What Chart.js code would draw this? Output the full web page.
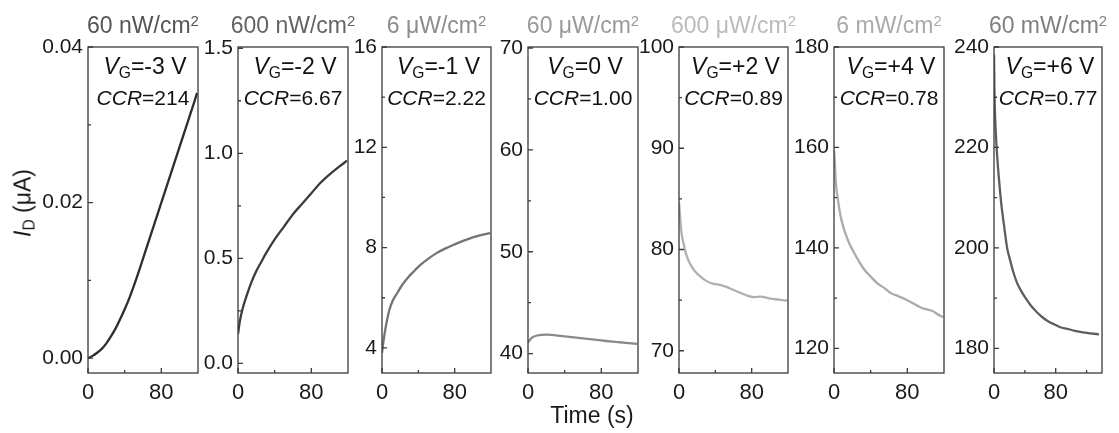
<!DOCTYPE html>
<html><head><meta charset="utf-8">
<script src="https://cdn.jsdelivr.net/npm/chart.js@4.4.0/dist/chart.umd.min.js"></script>
<style>
body{margin:0;background:#fff;}
#wrap{position:relative;width:1119px;height:433px;overflow:hidden;background:#fff;font-family:"Liberation Sans",Arial,sans-serif;color:#1a1a1a;}
canvas{position:absolute;top:0;}
.t{position:absolute;white-space:nowrap;line-height:1;}
.t sub{font-size:0.68em;vertical-align:-0.28em;line-height:0;}
.t sup{font-size:0.65em;vertical-align:0.45em;line-height:0;}
</style></head><body><div id="wrap"></div>
<script>
// ---------- DATA ----------
const intensities = ["60 nW/cm", "600 nW/cm", "6 \u03bcW/cm", "60 \u03bcW/cm", "600 \u03bcW/cm", "6 mW/cm", "60 mW/cm"];
const gateVoltages = ["-3", "-2", "-1", "0", "+2", "+4", "+6"];
const ccrValues = ["214", "6.67", "2.22", "1.00", "0.89", "0.78", "0.77"];

const timeP1 = [0,5,10,15,20,25,30,35,40,45,50,55,60,65,70,75,80,85,90,95,100,105,110,115,119];
const currentP1 = [0.0000,0.0003,0.0007,0.0012,0.0019,0.0028,0.0038,0.0050,0.0063,0.0077,0.0093,0.0110,0.0128,0.0146,0.0164,0.0182,0.0200,0.0218,0.0236,0.0254,0.0272,0.0290,0.0308,0.0326,0.0341];

const timeP2 = [0,2,5,10,15,20,25,30,40,50,60,70,80,90,100,110,119];
const currentP2 = [0.14,0.20,0.26,0.33,0.39,0.44,0.48,0.52,0.59,0.65,0.71,0.76,0.81,0.86,0.90,0.935,0.965];

const timeP3 = [0,1,3,5,8,12,17,22,28,35,42,50,60,70,80,90,100,110,119];
const currentP3 = [3.8,4.1,4.6,5.0,5.5,5.9,6.2,6.5,6.78,7.05,7.3,7.53,7.78,7.97,8.13,8.28,8.41,8.51,8.58];

const timeP4 = [0,3,6,10,15,20,25,30,40,50,60,70,80,90,100,110,119];
const currentP4 = [41.1,41.45,41.65,41.78,41.85,41.87,41.85,41.8,41.7,41.6,41.5,41.4,41.3,41.2,41.12,41.03,40.95];

const timeP5 = [0,1,2,3,5,7,10,14,18,24,30,38,45,52,60,68,75,82,90,100,110,119];
const currentP5 = [84.6,83.5,82.3,81.5,80.6,79.8,79.0,78.3,77.8,77.3,76.9,76.6,76.5,76.3,76.0,75.7,75.45,75.3,75.35,75.15,75.05,74.95];

const timeP6 = [0,1,2,4,7,10,13,17,22,27,33,40,47,55,62,70,79,86,94,100,108,113,119];
const currentP6 = [159.5,157,153,150,146.5,144.3,142.6,140.8,139,137.4,135.7,134.3,133,132,131,130.4,129.7,129,128.2,127.8,127.4,126.8,126.2];

const timeP7 = [0,0.5,1,2,3,4,6,8,10,13,17,21,25,30,35,41,48,55,62,70,78,86,95,105,115,125,136];
const currentP7 = [238.5,232,228,224,221,218.5,214.5,211,208,204.5,200,197.5,195.2,193,191.5,190,188.5,187.3,186.3,185.4,184.8,184.2,183.9,183.5,183.2,183.0,182.8];

const xTickValues = [0, 80];
const xTickLabels = ["0", "80"];
const xMinorTicks = [40, 120];

const yTicksP1 = [0, 0.02, 0.04];   const yLabelsP1 = ["0.00", "0.02", "0.04"];
const yTicksP2 = [0, 0.5, 1.0, 1.5]; const yLabelsP2 = ["0.0", "0.5", "1.0", "1.5"];
const yTicksP3 = [4, 8, 12, 16];     const yLabelsP3 = ["4", "8", "12", "16"];
const yTicksP4 = [40, 50, 60, 70];   const yLabelsP4 = ["40", "50", "60", "70"];
const yTicksP5 = [70, 80, 90, 100];  const yLabelsP5 = ["70", "80", "90", "100"];
const yTicksP6 = [120, 140, 160, 180]; const yLabelsP6 = ["120", "140", "160", "180"];
const yTicksP7 = [180, 200, 220, 240]; const yLabelsP7 = ["180", "200", "220", "240"];

// ---------- LAYOUT / STYLE ----------
const FONT = '"Liberation Sans", Arial, sans-serif';
const TOP = 47, BOTTOM = 373, LEFTBOX = 70, RIGHTPAD = 8;
const panels = [
  {L:88,  R:198,  t:timeP1, v:currentP1, yt:yTicksP1, yl:yLabelsP1, ymin:-0.0019, ymax:0.04,  xmax:120, line:'#2e2e2e', title:'#555555'},
  {L:238, R:348,  t:timeP2, v:currentP2, yt:yTicksP2, yl:yLabelsP2, ymin:-0.046,  ymax:1.506, xmax:120, line:'#3c3c3c', title:'#636363'},
  {L:382, R:491,  t:timeP3, v:currentP3, yt:yTicksP3, yl:yLabelsP3, ymin:3.0,     ymax:16,    xmax:120, line:'#747474', title:'#8c8c8c'},
  {L:528, R:638,  t:timeP4, v:currentP4, yt:yTicksP4, yl:yLabelsP4, ymin:38.1,    ymax:70.1,  xmax:120, line:'#8a8a8a', title:'#9a9a9a'},
  {L:679, R:788,  t:timeP5, v:currentP5, yt:yTicksP5, yl:yLabelsP5, ymin:67.8,    ymax:100,   xmax:120, line:'#b0b0b0', title:'#bbbbbb'},
  {L:834, R:944,  t:timeP6, v:currentP6, yt:yTicksP6, yl:yLabelsP6, ymin:115.1,   ymax:180,   xmax:120, line:'#ababab', title:'#aaaaaa'},
  {L:994, R:1102, t:timeP7, v:currentP7, yt:yTicksP7, yl:yLabelsP7, ymin:175.1,   ymax:240,   xmax:140, line:'#5e5e5e', title:'#808080'}
];

const wrap = document.getElementById('wrap');
function addText(html, css){
  const d = document.createElement('div');
  d.className = 't';
  d.innerHTML = html;
  Object.assign(d.style, css);
  wrap.appendChild(d);
  return d;
}

panels.forEach((p, i) => {
  const cv = document.createElement('canvas');
  const w = p.R - p.L + LEFTBOX + RIGHTPAD;
  cv.width = w; cv.height = 433;
  cv.style.left = (p.L - LEFTBOX) + 'px';
  cv.style.width = w + 'px'; cv.style.height = '433px';
  wrap.appendChild(cv);

  const yMinor = [];
  for (let k = 0; k < p.yt.length - 1; k++) yMinor.push((p.yt[k] + p.yt[k+1]) / 2);

  const framePlugin = {
    id: 'frame' + i,
    afterDraw(chart){
      const ctx = chart.ctx, a = chart.chartArea;
      const xs = chart.scales.x, ys = chart.scales.y;
      ctx.save();
      ctx.strokeStyle = '#3a3a3a';
      ctx.lineWidth = 1.3;
      ctx.strokeRect(a.left, a.top, a.right - a.left, a.bottom - a.top);
      ctx.beginPath();
      xTickValues.forEach(v => { const px = xs.getPixelForValue(v); ctx.moveTo(px, a.bottom); ctx.lineTo(px, a.bottom - 5); });
      xMinorTicks.forEach(v => { if (v < p.xmax) { const px = xs.getPixelForValue(v); ctx.moveTo(px, a.bottom); ctx.lineTo(px, a.bottom - 3); } });
      p.yt.forEach(v => { const py = ys.getPixelForValue(v); ctx.moveTo(a.left, py); ctx.lineTo(a.left + 5, py); });
      yMinor.forEach(v => { const py = ys.getPixelForValue(v); ctx.moveTo(a.left, py); ctx.lineTo(a.left + 3, py); });
      ctx.stroke();
      ctx.restore();
    }
  };

  new Chart(cv, {
    type: 'line',
    data: { datasets: [{
      data: p.t.map((x, k) => ({x: x, y: p.v[k]})),
      borderColor: p.line, borderWidth: 2.3, pointRadius: 0, fill: false,
      cubicInterpolationMode: 'monotone'
    }]},
    options: {
      responsive: false, maintainAspectRatio: false, animation: false, devicePixelRatio: 1, events: [],
      layout: { padding: { top: TOP, right: RIGHTPAD, left: 0, bottom: 0 } },
      plugins: { legend: { display: false }, tooltip: { enabled: false }, title: { display: false } },
      scales: {
        x: {
          type: 'linear', min: 0, max: p.xmax,
          grid: { display: false, drawTicks: false }, border: { display: false },
          ticks: { padding: 7, color: '#1a1a1a', font: { family: FONT, size: 22 }, maxRotation: 0, autoSkip: false,
                   callback: (val, idx) => xTickLabels[idx] },
          afterBuildTicks: s => { s.ticks = xTickValues.map(v => ({value: v})); },
          afterFit: s => { s.height = 433 - BOTTOM; }
        },
        y: {
          type: 'linear', min: p.ymin, max: p.ymax,
          grid: { display: false, drawTicks: false }, border: { display: false },
          ticks: { padding: 5, color: '#1a1a1a', font: { family: FONT, size: 21 }, autoSkip: false,
                   callback: (val, idx) => p.yl[idx] },
          afterBuildTicks: s => { s.ticks = p.yt.map(v => ({value: v})); },
          afterFit: s => { s.width = LEFTBOX; }
        }
      }
    },
    plugins: [framePlugin]
  });

  const cx = (p.L + p.R) / 2;
  // intensity title
  addText(intensities[i] + '<sup>2</sup>', {left: cx + 'px', top: '13.5px', fontSize: '23px', color: p.title, transform: 'translateX(-50%)'});
  // gate voltage
  addText('<i>V</i><sub>G</sub>=' + gateVoltages[i] + ' V', {left: (cx + 2) + 'px', top: '54.5px', fontSize: '23px', color: '#111', transform: 'translateX(-50%)'});
  // CCR
  addText('<i>CCR</i>=' + ccrValues[i], {left: cx + 'px', top: '87px', fontSize: '21px', color: '#111', transform: 'translateX(-50%)'});
});

// axis titles
addText('<i>I</i><sub>D</sub> (\u03bcA)', {left: '23px', top: '203px', fontSize: '23px', color: '#1a1a1a', transform: 'translate(-50%,-50%) rotate(-90deg)'});
addText('Time (s)', {left: '592px', top: '404px', fontSize: '23px', color: '#1a1a1a', transform: 'translateX(-50%)'});
</script>
</body></html>
